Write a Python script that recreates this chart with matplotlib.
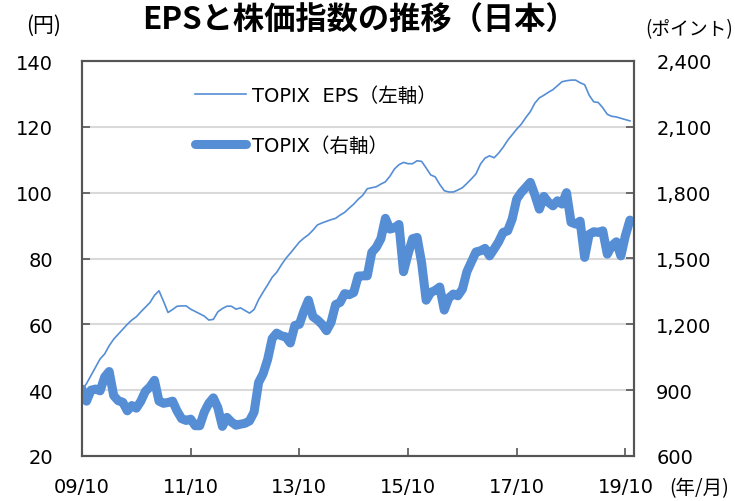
import matplotlib
matplotlib.use('Agg')
import matplotlib.pyplot as plt
import numpy as np
from matplotlib.ticker import FuncFormatter

plt.rcParams['font.family'] = ['DejaVu Sans', 'Noto Sans CJK JP']

# TOPIX EPS (左軸, 円), 月次 09/10 〜 19/11
eps = [40.0, 42.0, 44.5, 47.0, 49.5, 51.0, 53.5, 55.5, 57.0, 58.5,
       60.0, 61.3, 62.3, 63.8, 65.2, 66.6, 68.8, 70.2, 67.0, 63.6,
       64.5, 65.5, 65.6, 65.6, 64.6, 63.9, 63.2, 62.5, 61.3, 61.5,
       63.8, 64.8, 65.5, 65.5, 64.6, 65.0, 64.2, 63.4, 64.5, 67.5,
       69.8, 72.0, 74.3, 75.8, 78.0, 80.0, 81.6, 83.3, 85.0, 86.2,
       87.2, 88.6, 90.2, 90.8, 91.3, 91.8, 92.2, 93.2, 94.0, 95.3,
       96.5, 98.0, 99.2, 101.2, 101.5, 101.8, 102.6, 103.3, 105.0, 107.2,
       108.5, 109.2, 108.8, 108.8, 109.7, 109.5, 107.5, 105.4, 104.8, 102.5,
       100.6, 100.2, 100.2, 100.8, 101.5, 102.8, 104.2, 105.7, 108.7, 110.5,
       111.2, 110.6, 112.0, 113.8, 115.9, 117.6, 119.3, 120.8, 122.8, 124.6,
       127.2, 128.8, 129.6, 130.5, 131.3, 132.5, 133.7, 134.0, 134.2, 134.2,
       133.4, 132.8, 129.6, 127.6, 127.4, 125.8, 123.8, 123.2, 123.0, 122.6,
       122.2, 121.8]

# TOPIX (右軸, ポイント)
topix = [905, 850, 900, 905, 897, 960, 985, 875, 852, 845,
         806, 830, 818, 850, 895, 915, 945, 850, 840, 844,
         850, 805, 770, 762, 768, 738, 738, 800, 840, 865,
         820, 735, 776, 755, 740, 745, 749, 760, 800, 935,
         975, 1040, 1135, 1160, 1148, 1143, 1115, 1195, 1200, 1260,
         1310, 1235, 1220, 1200, 1171, 1209, 1290, 1300, 1340, 1335,
         1345, 1420, 1421, 1421, 1528, 1551, 1590, 1683, 1634, 1640,
         1655, 1440, 1520, 1590, 1596, 1480, 1310, 1345, 1355, 1370,
         1265, 1320, 1338, 1330, 1360, 1440, 1485, 1530, 1535, 1546,
         1512, 1543, 1576, 1619, 1626, 1680, 1771, 1801, 1824, 1847,
         1790, 1725, 1783, 1756, 1740, 1763, 1748, 1800, 1665, 1657,
         1670, 1505, 1610, 1622, 1619, 1626, 1520, 1558, 1576, 1512,
         1604, 1675]

tick_pos = [0, 24, 48, 72, 96, 120]
tick_labels = ['09/10', '11/10', '13/10', '15/10', '17/10', '19/10']

blue = '#558ED5'
edge = '#555555'

fig = plt.figure(figsize=(7.35, 5.02), dpi=100)
ax = fig.add_axes([82/735, 1-457/502, 552/735, 395/502])
ax2 = ax.twinx()

x = np.arange(len(eps))
l1, = ax.plot(x, eps, color=blue, lw=1.2, label='TOPIX  EPS（左軸）')
l2, = ax2.plot(x, topix, color=blue, lw=6.5, solid_capstyle='round',
               solid_joinstyle='round', label='TOPIX（右軸）')

ax.set_xlim(0, 121.9)
ax.set_ylim(20, 140)
ax.set_yticks(np.arange(20, 141, 20))
ax2.set_ylim(600, 2400)
ax2.set_yticks(np.arange(600, 2401, 300))
ax2.yaxis.set_major_formatter(FuncFormatter(lambda v, p: f'{int(v):,}'))
ax.set_xticks(tick_pos)
ax.set_xticklabels(tick_labels)

ax.grid(axis='y', color='#d9d9d9', lw=1.5)
ax.set_axisbelow(True)

for a in (ax, ax2):
    for s in a.spines.values():
        s.set_color(edge)
        s.set_linewidth(1.5)
ax.tick_params(axis='y', direction='in', length=6, width=1.2, color=edge,
               labelsize=14, pad=21)
ax.tick_params(axis='x', direction='in', length=6, width=1.2, color=edge,
               labelsize=14, pad=15)
ax2.tick_params(axis='y', direction='in', length=6, width=1.2, color=edge,
                labelsize=14, pad=16)

ax2.legend(handles=[l1, l2], loc='upper left',
           bbox_to_anchor=(195/735, 1-87/502), bbox_transform=fig.transFigure,
           frameon=False, fontsize=14, handlelength=2.6, handletextpad=0.35,
           labelspacing=1.6, borderpad=0, borderaxespad=0)

fig.text(359/735, 1-21/502, 'EPSと株価指数の推移（日本）', ha='center', va='center',
         fontsize=22.5, fontweight='bold', family=['Noto Sans CJK JP'])
fig.text(44/735, 1-26/502, '(円)', ha='center', va='center', fontsize=15,
         family=['Noto Sans CJK JP'])
fig.text(689/735, 1-30/502, '(ポイント)', ha='center', va='center', fontsize=13.5,
         family=['Noto Sans CJK JP'])
fig.text(669/735, 1-489/502, '(年/月)', ha='left', va='center', fontsize=14,
         family=['Noto Sans CJK JP'])

plt.savefig('out.png', dpi=100)
